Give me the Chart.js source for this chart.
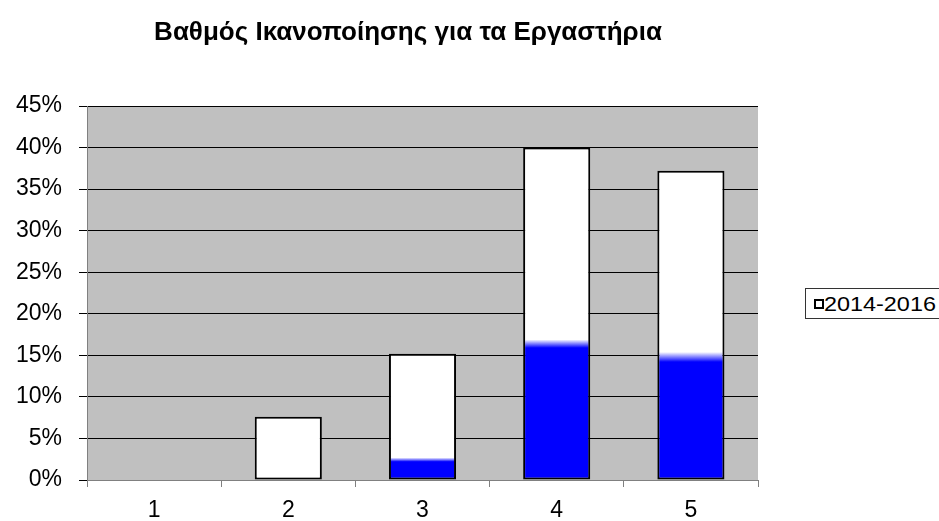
<!DOCTYPE html>
<html>
<head>
<meta charset="utf-8">
<script src="https://cdn.jsdelivr.net/npm/chart.js@4"></script>
<style>
html,body{margin:0;padding:0;background:#fff;}
#wrap{position:relative;width:939px;height:521px;overflow:hidden;}
#legend{position:absolute;left:805px;top:288px;width:150px;height:31px;border:1px solid #333;box-sizing:border-box;background:#fff;font-family:"Liberation Sans",Arial,sans-serif;font-size:20px;color:#000;}
#legend .box{position:absolute;left:8px;top:10px;width:10px;height:10px;border:2px solid #000;box-sizing:border-box;background:#fff;}
#legend .txt{position:absolute;left:18px;top:4px;transform:scaleX(1.17);transform-origin:left center;white-space:nowrap;}
</style>
</head>
<body>
<div id="wrap">
<canvas id="c" width="939" height="521"></canvas>
<div id="legend"><span class="box"></span><span class="txt" id="legtxt"></span></div>
</div>
<script>
const titleText = "Βαθμός Ικανοποίησης για τα Εργαστήρια";
const categories = ["1", "2", "3", "4", "5"];
const seriesLabel = "2014-2016";
const values = [0, 7.6, 15.2, 40.0, 37.2];
// blue gradient fill level (solid up to, fades out by) in %
const blueSolid = [0, 0, 2.2, 15.9, 14.2];
const blueFadeTop = [0, 0, 2.7, 16.9, 15.4];
const yTicks = [0, 5, 10, 15, 20, 25, 30, 35, 40, 45];

document.getElementById('legtxt').textContent = seriesLabel;

const plotBg = {
  id: 'plotBg',
  beforeDraw(chart) {
    const {ctx, chartArea: a} = chart;
    ctx.save();
    ctx.fillStyle = '#C0C0C0';
    ctx.fillRect(a.left, a.top, a.right - a.left, a.bottom - a.top);
    ctx.restore();
  }
};
const titlePlugin = {
  id: 'titlePlugin',
  afterDraw(chart) {
    const ctx = chart.ctx;
    ctx.save();
    ctx.font = 'bold 26px "Liberation Sans", Arial, sans-serif';
    ctx.fillStyle = '#000';
    ctx.textAlign = 'center';
    ctx.textBaseline = 'alphabetic';
    ctx.fillText(titleText, 408, 40);
    ctx.restore();
  }
};

function barFill(ctx) {
  if (ctx.type !== 'data') return '#ffffff';
  const chart = ctx.chart;
  if (!chart.chartArea) return '#ffffff';
  const i = ctx.dataIndex;
  const b = blueSolid[i], t = blueFadeTop[i];
  if (!b) return '#ffffff';
  const y = chart.scales.y;
  const y0 = y.getPixelForValue(0), yb = y.getPixelForValue(b), yt = y.getPixelForValue(t);
  const g = chart.ctx.createLinearGradient(0, y0, 0, yt);
  const s = (y0 - yb) / (y0 - yt);
  g.addColorStop(0, '#0000FF');
  g.addColorStop(s, '#0000FF');
  g.addColorStop(s + (1 - s) * 0.5, '#8080FF');
  g.addColorStop(1, '#FFFFFF');
  return g;
}

new Chart(document.getElementById('c'), {
  type: 'bar',
  data: {
    labels: categories,
    datasets: [{
      label: seriesLabel,
      data: values,
      backgroundColor: barFill,
      borderColor: '#000',
      borderWidth: 2,
      borderSkipped: false,
      barPercentage: 0.5,
      categoryPercentage: 1.0
    }]
  },
  options: {
    responsive: false,
    animation: false,
    devicePixelRatio: 1,
    layout: { padding: { top: 106, right: 181, left: 0, bottom: 0 } },
    plugins: {
      legend: { display: false },
      title: { display: false },
      tooltip: { enabled: false }
    },
    scales: {
      x: {
        grid: { offset: true, drawOnChartArea: false, drawTicks: true, tickLength: 7, color: '#808080' },
        border: { color: '#808080', width: 1 },
        ticks: { color: '#000', font: { family: '"Liberation Sans", Arial, sans-serif', size: 23 }, padding: 10 },
        afterFit(scale) { scale.height = 41; }
      },
      y: {
        min: 0, max: 45,
        afterBuildTicks(scale) { scale.ticks = yTicks.map(v => ({ value: v })); },
        grid: { color: '#000', lineWidth: 1, tickLength: 8, drawTicks: true },
        border: { color: '#808080', width: 1 },
        ticks: {
          color: '#000',
          font: { family: '"Liberation Sans", Arial, sans-serif', size: 23 },
          padding: 17,
          callback: v => v + '%'
        },
        afterFit(scale) { scale.width = 87; }
      }
    }
  },
  plugins: [plotBg, titlePlugin]
});
</script>
</body>
</html>
